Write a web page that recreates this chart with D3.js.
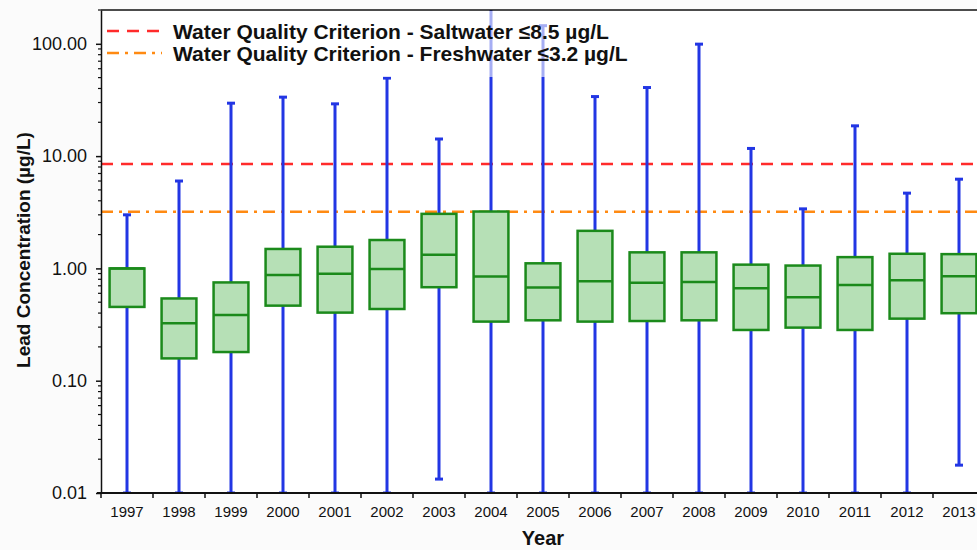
<!DOCTYPE html>
<html><head><meta charset="utf-8">
<script src="https://cdn.jsdelivr.net/npm/d3@7"></script>
<style>
html,body{margin:0;padding:0;background:#fbfbfb;}
svg{display:block;font-family:"Liberation Sans",Arial,Helvetica,sans-serif;}
</style>
</head><body>
<svg id="chart" width="977" height="550"></svg>
<script>
// ---- data ----
const years = ["1997","1998","1999","2000","2001","2002","2003","2004","2005","2006","2007","2008","2009","2010","2011","2012","2013"];
const whiskerHigh = [3.0, 6.0, 29.6, 33.5, 29.2, 49.5, 14.2, 300, 145, 33.9, 40.8, 99.3, 11.7, 3.39, 18.6, 4.68, 6.23];
const q3Values    = [1.0, 0.54, 0.75, 1.49, 1.56, 1.79, 3.06, 3.21, 1.11, 2.16, 1.39, 1.39, 1.08, 1.06, 1.26, 1.35, 1.34];
const medianValues= [1.0, 0.325, 0.385, 0.875, 0.894, 0.99, 1.32, 0.845, 0.675, 0.769, 0.747, 0.758, 0.666, 0.553, 0.713, 0.785, 0.852];
const q1Values    = [0.454, 0.158, 0.18, 0.466, 0.404, 0.435, 0.68, 0.336, 0.345, 0.336, 0.34, 0.345, 0.283, 0.297, 0.283, 0.357, 0.399];
const whiskerLow  = [0.01, 0.01, 0.01, 0.01, 0.01, 0.01, 0.0133, 0.01, 0.01, 0.01, 0.01, 0.01, 0.01, 0.01, 0.01, 0.01, 0.0177];
const yTickValues = [0.01, 0.1, 1, 10, 100];
const criteriaLabels = ["Water Quality Criterion - Saltwater \u22648.5 \u00b5g/L", "Water Quality Criterion - Freshwater \u22643.2 \u00b5g/L"];
const criteriaValues = [8.5, 3.2];
const xTitle = "Year";
const yTitle = "Lead Concentration (\u00b5g/L)";

// ---- layout ----
const svg = d3.select("#chart");
const W = 977, H = 550;
const pLeft = 101, pTop = 10, pBottom = 493;
const bandStep = 52;
const x = d3.scaleBand().domain(years).range([pLeft, pLeft + bandStep * years.length]).paddingInner(0).paddingOuter(0);
const y = d3.scaleLog().domain([0.01, 200]).range([pBottom, pTop]);

const blue = "#2236e4", boxFill = "#b6e0b6", boxStroke = "#1b8a1b";
const critColors = ["#ff2b2b", "#ff8a12"];
const critDash = ["12,8", "12,6,3,6"];

svg.append("rect").attr("x", pLeft).attr("y", pTop).attr("width", W - pLeft).attr("height", pBottom - pTop).attr("fill", "#ffffff");

svg.append("defs").append("clipPath").attr("id", "plotclip")
  .append("rect").attr("x", pLeft).attr("y", pTop).attr("width", W - pLeft).attr("height", pBottom - pTop);

const plot = svg.append("g").attr("clip-path", "url(#plotclip)");

// criterion lines
criteriaValues.forEach((v, i) => {
  plot.append("line")
    .attr("x1", pLeft).attr("x2", W)
    .attr("y1", y(v)).attr("y2", y(v))
    .attr("stroke", critColors[i]).attr("stroke-width", 2.5)
    .attr("stroke-dasharray", critDash[i]);
});

const idx = d3.range(years.length);
const cx = i => x(years[i]) + x.bandwidth() / 2;
const boxW = x.bandwidth() * 0.67;
const capW = 8;

// whiskers
plot.selectAll(".whisker").data(idx).join("line")
  .attr("class", "whisker")
  .attr("x1", cx).attr("x2", cx)
  .attr("y1", i => y(whiskerLow[i])).attr("y2", i => y(whiskerHigh[i]))
  .attr("stroke", blue).attr("stroke-width", 3);
plot.selectAll(".capHigh").data(idx).join("line")
  .attr("class", "capHigh")
  .attr("x1", i => cx(i) - capW / 2).attr("x2", i => cx(i) + capW / 2)
  .attr("y1", i => y(whiskerHigh[i])).attr("y2", i => y(whiskerHigh[i]))
  .attr("stroke", blue).attr("stroke-width", 3);
plot.selectAll(".capLow").data(idx).join("line")
  .attr("class", "capLow")
  .attr("x1", i => cx(i) - capW / 2).attr("x2", i => cx(i) + capW / 2)
  .attr("y1", i => y(whiskerLow[i])).attr("y2", i => y(whiskerLow[i]))
  .attr("stroke", blue).attr("stroke-width", 3);

// boxes
plot.selectAll(".box").data(idx).join("rect")
  .attr("class", "box")
  .attr("x", i => cx(i) - boxW / 2).attr("width", boxW)
  .attr("y", i => y(q3Values[i])).attr("height", i => y(q1Values[i]) - y(q3Values[i]))
  .attr("fill", boxFill).attr("stroke", boxStroke).attr("stroke-width", 2.5);
plot.selectAll(".median").data(idx).join("line")
  .attr("class", "median")
  .attr("x1", i => cx(i) - boxW / 2).attr("x2", i => cx(i) + boxW / 2)
  .attr("y1", i => y(medianValues[i])).attr("y2", i => y(medianValues[i]))
  .attr("stroke", boxStroke).attr("stroke-width", 2.5);

// legend
const legend = svg.append("g");
legend.append("rect").attr("x", pLeft + 1).attr("y", pTop + 1).attr("width", 540).attr("height", 66)
  .attr("fill", "#ffffff").attr("fill-opacity", 0.6);
const legY = [31, 53];
criteriaLabels.forEach((t, i) => {
  legend.append("line").attr("x1", 107).attr("x2", 162).attr("y1", legY[i]).attr("y2", legY[i])
    .attr("stroke", critColors[i]).attr("stroke-width", 2.5).attr("stroke-dasharray", critDash[i]);
  legend.append("text").attr("x", 173).attr("y", legY[i] + 7.5)
    .attr("font-size", 21).attr("font-weight", "bold").attr("fill", "#111").text(t);
});

// frame top
svg.append("line").attr("x1", pLeft).attr("x2", W).attr("y1", pTop).attr("y2", pTop).attr("stroke", "#111").attr("stroke-width", 1.5);

// y axis
const yAxis = d3.axisLeft(y).tickValues(yTickValues).tickFormat(d3.format(".2f")).tickSize(5).tickSizeOuter(0).tickPadding(9);
const gy = svg.append("g").attr("transform", `translate(${pLeft},0)`).call(yAxis);
gy.select(".domain").attr("stroke", "#111").attr("stroke-width", 1.5);
gy.selectAll(".tick line").attr("stroke", "#111").attr("stroke-width", 1.5);
gy.selectAll(".tick text").attr("font-size", 18).attr("fill", "#111").attr("font-family", "'Liberation Sans',Arial,sans-serif");
const minor = [];
for (let e = -2; e <= 2; e++) for (let m = 2; m <= 9; m++) { const v = m * Math.pow(10, e); if (v <= 200) minor.push(v); }
gy.selectAll(".minor").data(minor).join("line").attr("class", "minor")
  .attr("x1", -3).attr("x2", 0).attr("y1", d => y(d)).attr("y2", d => y(d))
  .attr("stroke", "#111").attr("stroke-width", 1.2);

// x axis
const gx = svg.append("g");
gx.append("line").attr("x1", pLeft - 4).attr("x2", W).attr("y1", pBottom).attr("y2", pBottom).attr("stroke", "#111").attr("stroke-width", 2);
gx.selectAll(".xt").data(d3.range(years.length + 1)).join("line").attr("class", "xt")
  .attr("x1", i => pLeft + i * x.step()).attr("x2", i => pLeft + i * x.step())
  .attr("y1", pBottom).attr("y2", pBottom + 5).attr("stroke", "#111").attr("stroke-width", 1.5);
gx.selectAll(".xl").data(idx).join("text").attr("class", "xl")
  .attr("x", cx).attr("y", 517).attr("text-anchor", "middle")
  .attr("font-size", 15).attr("fill", "#111").text(i => years[i]);

// titles
svg.append("text").attr("x", 543).attr("y", 545).attr("text-anchor", "middle")
  .attr("font-size", 20).attr("font-weight", "bold").attr("fill", "#111").text(xTitle);
svg.append("text").attr("transform", "translate(30,250) rotate(-90)").attr("text-anchor", "middle")
  .attr("font-size", 19).attr("font-weight", "bold").attr("fill", "#111").text(yTitle);
</script>
</body></html>
